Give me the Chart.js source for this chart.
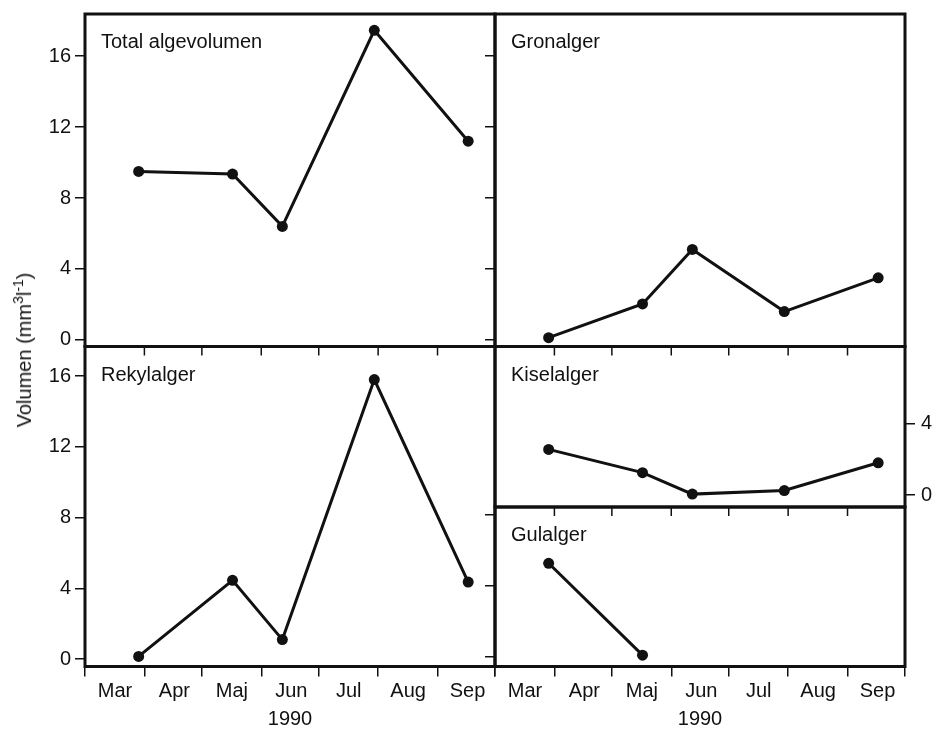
<!DOCTYPE html>
<html lang="sv">
<head>
    <meta charset="UTF-8">
    <title>Algevolumen 1990</title>
    <script src="https://cdn.jsdelivr.net/npm/chart.js"></script>
    <style>
        body {
            margin: 0;
            background: #fff;
            font-family: 'Liberation Sans', Arial, sans-serif;
        }
        .wrap {
            position: relative;
            width: 943px;
            height: 729px;
            overflow: hidden;
        }
        .wrap canvas {
            position: absolute;
            left: 0;
            top: 0;
        }
        .ytitle {
            position: absolute;
            left: 24px;
            top: 350px;
            transform: translate(-50%, -50%) rotate(-90deg);
            font-size: 20px;
            line-height: 22px;
            white-space: nowrap;
            color: #111;
        }
        .ytitle sup {
            font-size: 14px;
            line-height: 0;
        }
    </style>
</head>
<body>
<div class="wrap">
    <canvas id="total" width="943" height="729"></canvas>
    <canvas id="gron" width="943" height="729"></canvas>
    <canvas id="rekyl" width="943" height="729"></canvas>
    <canvas id="kisel" width="943" height="729"></canvas>
    <canvas id="gul" width="943" height="729"></canvas>
    <div class="ytitle">Volumen (mm<sup>3</sup>l<sup>-1</sup>)</div>
</div>

<script>
    // dagar räknat från 1 mars 1990
    const monthStarts = [0, 31, 61, 92, 122, 153, 184, 214];
    const monthLabels = ['Mar', 'Apr', 'Maj', 'Jun', 'Jul', 'Aug', 'Sep'];
    const sampleDays = [28, 77, 103, 151, 200];

    // volym mm3/l
    const totalVol = [9.5, 9.35, 6.4, 17.45, 11.2];
    const gronVol = [0.13, 2.03, 5.1, 1.6, 3.5];
    const rekylVol = [0.15, 4.45, 1.1, 15.8, 4.35];
    const kiselVol = [2.55, 1.25, 0.05, 0.25, 1.8];
    const gulVol = [5.27, 0.08];

    const ticksTall = [0, 4, 8, 12, 16];
    const ticksKisel = [0, 4];
    const ticksGul = [0, 4, 8];

    const ink = '#111';
    const W = 943, H = 729;
    const font = { family: "'Liberation Sans', Arial, sans-serif", size: 20 };

    // rutor i bild (chart area)
    const panels = [
        { id: 'total', label: 'Total algevolumen', values: totalVol, left: 85, top: 14, right: 495, bottom: 346.5,
          min: -0.37, max: 18.37, yPos: 'left', yTicks: ticksTall, yLabels: true, showX: false, innerTop: false },
        { id: 'gron', label: 'Gronalger', values: gronVol, left: 495, top: 14, right: 905, bottom: 346.5,
          min: -0.37, max: 18.37, yPos: 'left', yTicks: ticksTall, yLabels: false, showX: false, innerTop: false },
        { id: 'rekyl', label: 'Rekylalger', values: rekylVol, left: 85, top: 346.5, right: 495, bottom: 666.5,
          min: -0.42, max: 17.67, yPos: 'left', yTicks: ticksTall, yLabels: true, showX: true, innerTop: true },
        { id: 'kisel', label: 'Kiselalger', values: kiselVol, left: 495, top: 346.5, right: 905, bottom: 507,
          min: -0.67, max: 8.3, yPos: 'right', yTicks: ticksKisel, yLabels: true, showX: false, innerTop: true },
        { id: 'gul', label: 'Gulalger', values: gulVol, left: 495, top: 507, right: 905, bottom: 666.5,
          min: -0.56, max: 8.45, yPos: 'left', yTicks: ticksGul, yLabels: false, showX: true, innerTop: true }
    ];

    function makePanel(p) {
        // ram runt rutan, etikett och inåtvända månadsstreck upptill
        const panelDeco = {
            id: 'panelDeco',
            afterDraw(chart) {
                const { ctx, chartArea: a } = chart;
                ctx.save();
                ctx.strokeStyle = ink;
                if (p.innerTop) {
                    ctx.lineWidth = 1.5;
                    const xs = chart.scales.x;
                    monthStarts.slice(1, -1).forEach(v => {
                        const px = xs.getPixelForValue(v);
                        ctx.beginPath();
                        ctx.moveTo(px, a.top);
                        ctx.lineTo(px, a.top + 9);
                        ctx.stroke();
                    });
                }
                ctx.lineWidth = 3;
                ctx.strokeRect(a.left, a.top, a.right - a.left, a.bottom - a.top);
                ctx.fillStyle = ink;
                ctx.font = "20px 'Liberation Sans', Arial, sans-serif";
                ctx.textBaseline = 'alphabetic';
                ctx.fillText(p.label, a.left + 16, a.top + 34);
                ctx.restore();
            }
        };

        return new Chart(document.getElementById(p.id), {
            type: 'line',
            data: {
                datasets: [{
                    data: p.values.map((v, i) => ({ x: sampleDays[i], y: v })),
                    borderColor: ink,
                    borderWidth: 3,
                    pointRadius: 5.5,
                    pointBackgroundColor: ink,
                    pointBorderWidth: 0,
                    tension: 0
                }]
            },
            options: {
                responsive: false,
                animation: false,
                events: [],
                layout: {
                    padding: {
                        left: p.yPos === 'left' ? 0 : p.left,
                        right: p.yPos === 'right' ? 0 : W - p.right,
                        top: p.top,
                        bottom: p.showX ? 0 : H - p.bottom
                    }
                },
                plugins: {
                    legend: { display: false },
                    tooltip: { enabled: false }
                },
                scales: {
                    x: {
                        type: 'linear',
                        min: 0,
                        max: 214,
                        display: p.showX,
                        position: 'bottom',
                        afterBuildTicks: s => { s.ticks = monthStarts.map(v => ({ value: v })); },
                        afterFit: s => {
                            if (p.showX) s.height = H - p.bottom;
                            s.paddingLeft = 0;
                            s.paddingRight = 0;
                        },
                        grid: { drawOnChartArea: false, tickLength: 10, color: ink, lineWidth: 1.5 },
                        border: { display: false },
                        ticks: {
                            font: font,
                            color: ink,
                            padding: 3,
                            labelOffset: 30,
                            maxRotation: 0,
                            autoSkip: false,
                            callback: (v, i) => monthLabels[i] || ''
                        },
                        title: {
                            display: true,
                            text: '1990',
                            color: ink,
                            font: { family: font.family, size: 20, lineHeight: 1 },
                            padding: 0
                        }
                    },
                    y: {
                        type: 'linear',
                        min: p.min,
                        max: p.max,
                        position: p.yPos,
                        afterBuildTicks: s => { s.ticks = p.yTicks.map(v => ({ value: v })); },
                        afterFit: s => {
                            s.width = p.yPos === 'left' ? p.left : W - p.right;
                            s.paddingTop = 0;
                            s.paddingBottom = 0;
                        },
                        grid: { drawOnChartArea: false, tickLength: 10, color: ink, lineWidth: 1.5 },
                        border: { display: false },
                        ticks: {
                            display: p.yLabels,
                            font: font,
                            color: ink,
                            padding: p.yPos === 'left' ? 4 : 6
                        }
                    }
                }
            },
            plugins: [panelDeco]
        });
    }

    panels.forEach(makePanel);
</script>
</body>
</html>
